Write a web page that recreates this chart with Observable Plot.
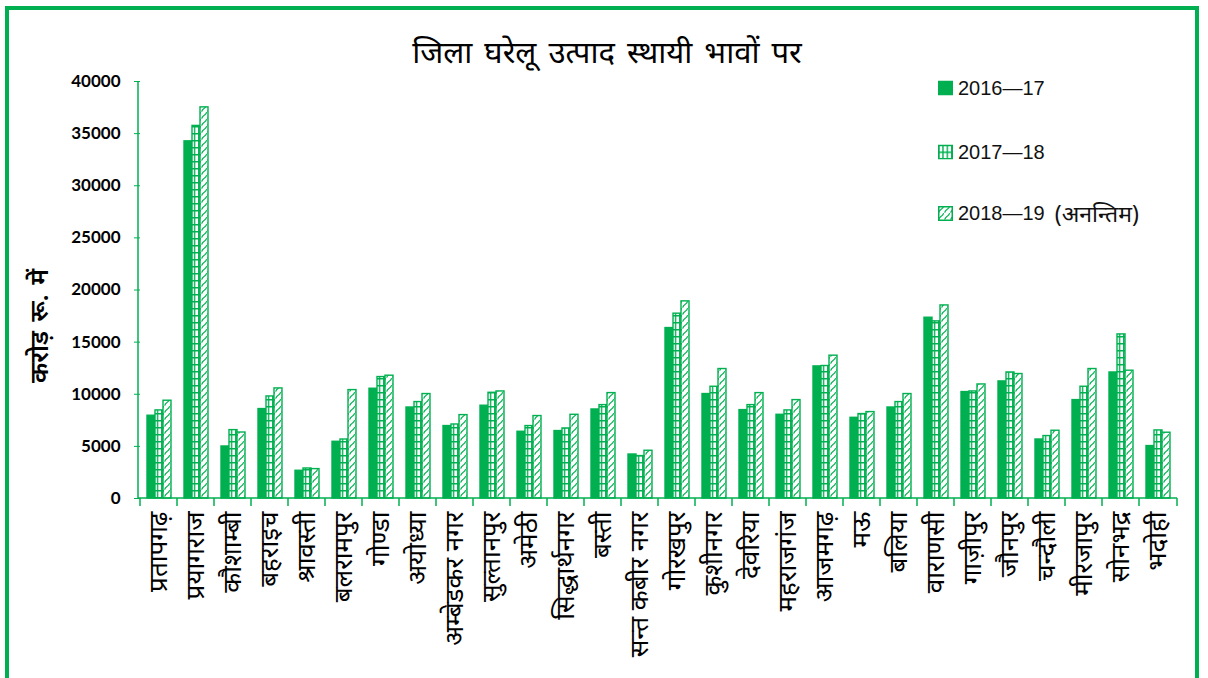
<!DOCTYPE html>
<html>
<head>
<meta charset="utf-8">
<script src="https://cdn.jsdelivr.net/npm/d3@7"></script>
<script src="https://cdn.jsdelivr.net/npm/@observablehq/plot@0.6"></script>
<style>
  html, body { margin: 0; padding: 0; background: #fff; }
  #wrap { position: relative; width: 1208px; height: 678px; overflow: hidden; font-family: "Noto Sans", "Noto Sans Devanagari", "Lohit Devanagari", sans-serif; }
  #frame { position: absolute; left: 5px; top: 6px; width: 1194px; height: 700px; border: 4px solid #00b050; box-sizing: border-box; }
  #title { position: absolute; left: 0; width: 1214px; top: 34px; text-align: center; font-size: 31px; word-spacing: 4px; line-height: 1.1; color: #000; }
  #ylabel { position: absolute; left: 38px; top: 326px; transform: translate(-50%, -50%) rotate(-90deg); white-space: pre; font-size: 25px; font-weight: 600; word-spacing: 3px; color: #000; }
  #legend { position: absolute; left: 938px; top: 0; }
  .lg { position: absolute; left: 0; display: flex; align-items: center; white-space: pre; font-family: "Liberation Sans", Arial, sans-serif; font-size: 20px; color: #111; transform: translateY(-50%); }
  .lg svg { margin-right: 5px; }
  .lg .note { font-family: "Noto Sans", "Noto Sans Devanagari", sans-serif; font-size: 23px; margin-left: 10px; }
  #chart { position: absolute; left: 0; top: 0; }
</style>
</head>
<body>
<svg width="0" height="0" style="position:absolute">
  <defs>
    <pattern id="p-grid" patternUnits="userSpaceOnUse" width="4.3" height="7">
      <rect width="4.3" height="7" fill="#fff"/>
      <path d="M0 0.7H4.3M0.7 0V7" stroke="#00b050" stroke-width="1.4" fill="none"/>
    </pattern>
    <pattern id="p-wave" patternUnits="userSpaceOnUse" width="6" height="7">
      <rect width="6" height="7" fill="#fff"/>
      <path d="M0.8 6.2Q1.5 4.5 3 3.5M3.8 2.8Q5 2 5.4 0.6" stroke="#00b050" stroke-width="1.2" fill="none" stroke-linecap="round"/>
    </pattern>
  </defs>
</svg>
<div id="wrap">
  <div id="frame"></div>
  <div id="chart"></div>
  <div id="title"></div>
  <div id="ylabel"></div>
  <div id="legend"></div>
</div>
<script>
const titleText = "जिला घरेलू उत्पाद स्थायी भावों पर";
const yLabel = "करोड़ रू. में";
const districts = ["प्रतापगढ़", "प्रयागराज", "कौशाम्बी", "बहराइच", "श्रावस्ती", "बलरामपुर", "गोण्डा", "अयोध्या", "अम्बेडकर नगर", "सुल्तानपुर", "अमेठी", "सिद्धार्थनगर", "बस्ती", "सन्त कबीर नगर", "गोरखपुर", "कुशीनगर", "देवरिया", "महराजगंज", "आजमगढ़", "मऊ", "बलिया", "वाराणसी", "गाज़ीपुर", "जौनपुर", "चन्दौली", "मीरजापुर", "सोनभद्र", "भदोही"];
const seriesKeys = ["2016—17", "2017—18", "2018—19"];
const legendNotes = ["", "", "(अनन्तिम)"];
const v2016 = [7940, 34260, 4990, 8580, 2660, 5440, 10530, 8730, 6950, 8900, 6400, 6470, 8540, 4220, 16350, 10020, 8480, 8030, 12670, 7740, 8730, 17340, 10210, 11230, 5660, 9440, 12090, 5030];
const v2017 = [8450, 35740, 6560, 9790, 2880, 5660, 11650, 9250, 7100, 10140, 6950, 6720, 8960, 4070, 17730, 10720, 8960, 8450, 12710, 8100, 9250, 16990, 10270, 12090, 5990, 10720, 15740, 6530];
const v2018 = [9380, 37520, 6330, 10560, 2820, 10400, 11780, 10020, 8000, 10270, 7910, 8030, 10110, 4580, 18910, 12420, 10110, 9440, 13700, 8290, 10020, 18520, 10940, 11940, 6500, 12420, 12260, 6310];
const yTicks = [0, 5000, 10000, 15000, 20000, 25000, 30000, 35000, 40000];
const fills = ["#00b050", "url(#p-grid)", "url(#p-wave)"];
const green = "#00b050";

const seriesValues = [v2016, v2017, v2018];
const data = [];
districts.forEach((d, i) => seriesKeys.forEach((s, j) => data.push({district: d, series: s, value: seriesValues[j][i]})));

const plot = Plot.plot({
  width: 1208,
  height: 678,
  marginLeft: 138,
  marginRight: 31,
  marginTop: 81,
  marginBottom: 180,
  style: {background: "transparent", fontFamily: "\"Noto Sans\", sans-serif"},
  fx: {domain: districts, padding: 0, label: null},
  x: {domain: seriesKeys, paddingInner: 0, paddingOuter: 0.7, axis: null},
  y: {domain: [0, 40000], label: null},
  color: {domain: seriesKeys, range: fills},
  marks: [
    Plot.barY(data, {fx: "district", x: "series", y: "value", fill: "series", stroke: green, strokeWidth: 1.4}),
    Plot.axisY({ticks: yTicks, tickFormat: d => String(d), tickSize: 6, tickPadding: 14, stroke: green, fill: "#000", fontSize: 17, fontWeight: "bold", label: null, fontFamily: "Lato, \"Open Sans\", sans-serif"}),
    Plot.axisFx({anchor: "bottom", tickSize: 0, tickPadding: 13, tickRotate: -90, fontSize: 26, fill: "#000", label: null})
  ]
});

// axis lines and boundary ticks drawn from the plot's own scales
const fx = plot.scale("fx"), y = plot.scale("y");
const svg = d3.select(plot);
const g = svg.append("g").attr("stroke", green).attr("stroke-width", 1.5).attr("fill", "none");
const x0 = fx.range[0], x1 = fx.range[1];
g.append("line").attr("x1", x0).attr("x2", x1).attr("y1", y.apply(0)).attr("y2", y.apply(0));
g.append("line").attr("x1", x0).attr("x2", x0).attr("y1", y.apply(0)).attr("y2", y.apply(40000));
const bounds = districts.map(d => fx.apply(d)).concat([x1]);
bounds.forEach(bx => g.append("line").attr("x1", bx).attr("x2", bx).attr("y1", y.apply(0)).attr("y2", y.apply(0) + 8));

document.getElementById("chart").appendChild(plot);
document.getElementById("title").textContent = titleText;
document.getElementById("ylabel").textContent = yLabel;

const legendY = [88, 152, 213];
const legend = document.getElementById("legend");
seriesKeys.forEach((lab, i) => {
  const row = document.createElement("div");
  row.className = "lg";
  row.style.top = legendY[i] + "px";
  row.innerHTML = `<svg width="15" height="15"><rect x="0.75" y="0.75" width="13.5" height="13.5" fill="${fills[i]}" stroke="${green}" stroke-width="1.5"/></svg><span class="yr"></span><span class="note"></span>`;
  row.querySelector(".yr").textContent = lab;
  row.querySelector(".note").textContent = legendNotes[i];
  legend.appendChild(row);
});
</script>
</body>
</html>
